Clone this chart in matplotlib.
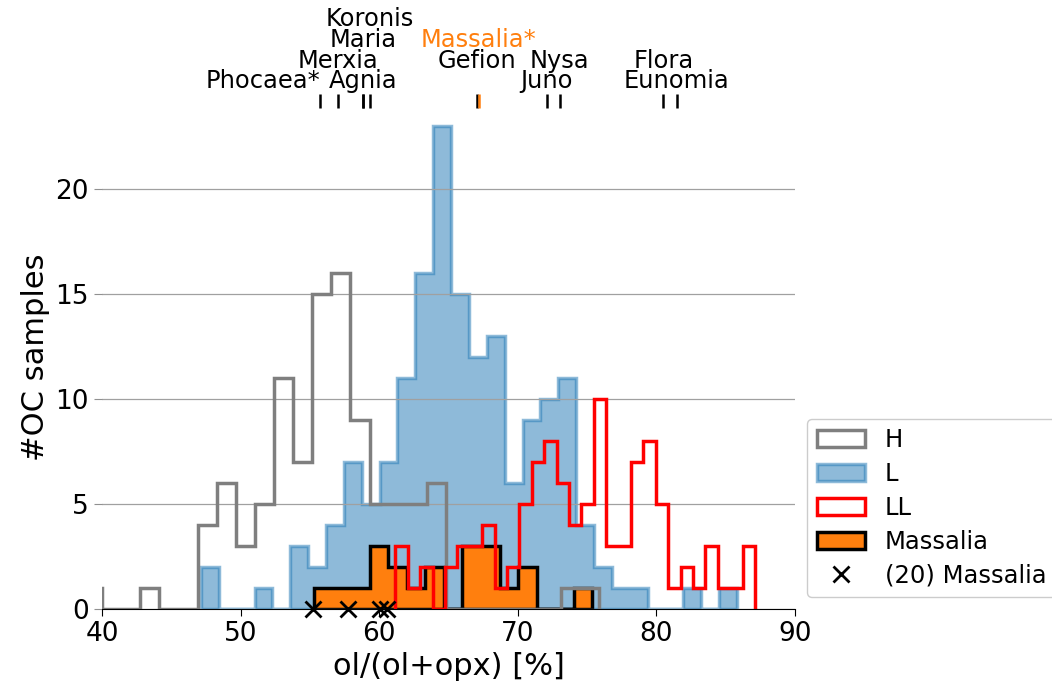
import numpy as np
import matplotlib
matplotlib.use('Agg')
from matplotlib import pyplot as plt

# histogram bins: first edge, bin width and counts per bin
h_start, h_width = 38.62, 1.379
h_counts = [1, 0, 0, 1, 0, 0, 4, 6, 3, 5, 11, 7, 15, 16, 9, 5, 5, 5, 6, 0, 0, 0, 0, 0, 0, 1, 1]

l_start, l_width = 47.14, 1.289
l_counts = [2, 0, 0, 1, 0, 3, 2, 4, 7, 5, 7, 11, 16, 23, 15, 12, 13, 6, 9, 10, 11, 4, 2, 1, 1, 0, 0, 1, 0, 1]

ll_start, ll_width = 61.17, 0.8946
ll_counts = [3, 1, 2, 0, 2, 3, 3, 4, 1, 2, 5, 7, 8, 6, 4, 5, 10, 3, 3, 7, 8, 5, 1, 2, 1, 3, 1, 1, 3]

mas_start, mas_width = 55.33, 1.335
mas_counts = [1, 1, 1, 3, 2, 1, 2, 0, 3, 3, 1, 2, 0, 0, 1]

# (20) Massalia measurements
massalia_20 = [55.24, 57.77, 60.06, 60.58]

# asteroid families on top
families = ['Phocaea*', 'Merxia', 'Agnia', 'Maria', 'Koronis', 'Gefion',
            'Massalia*', 'Juno', 'Nysa', 'Flora', 'Eunomia']
family_ol = [55.73, 57.05, 58.85, 58.85, 59.34, 67.03, 67.2, 72.09, 73.04, 80.5, 81.46]
family_row = [0, 1, 0, 2, 3, 1, 2, 0, 1, 1, 0]


def bins_of(start, width, counts):
    edges = start + width * np.arange(len(counts) + 1)
    centers = 0.5 * (edges[:-1] + edges[1:])
    return edges, centers


fig = plt.figure(figsize=(10.52, 6.91), dpi=100)
ax = fig.add_axes([102 / 1052, 82 / 691, 693 / 1052, 504 / 691])

lw = 2.5
edges, centers = bins_of(h_start, h_width, h_counts)
ax.hist(centers, bins=edges, weights=h_counts, histtype='step', color='C7', lw=lw, label='H')
edges, centers = bins_of(l_start, l_width, l_counts)
ax.hist(centers, bins=edges, weights=l_counts, histtype='stepfilled', fc='C0', ec='C0',
        alpha=0.5, lw=lw, label='L')
edges, centers = bins_of(ll_start, ll_width, ll_counts)
ax.hist(centers, bins=edges, weights=ll_counts, histtype='step', color='red', lw=lw, label='LL')
edges, centers = bins_of(mas_start, mas_width, mas_counts)
ax.hist(centers, bins=edges, weights=mas_counts, histtype='stepfilled', fc='C1', ec='black', lw=lw, label='Massalia')

ax.plot(massalia_20, np.zeros(len(massalia_20)), 'x', color='black', ms=12, mew=2,
        clip_on=False, zorder=5, label='(20) Massalia')

ax.set_xlim(40, 90)
ax.set_ylim(0, 24)
ax.set_yticks([0, 5, 10, 15, 20])
ax.grid(axis='y', color='#a0a0a0', lw=0.9)
for s in ['left', 'top', 'right']:
    ax.spines[s].set_visible(False)
ax.tick_params(axis='both', labelsize=19)
ax.tick_params(axis='y', color='#909090', length=6)
ax.tick_params(axis='x', length=5)
ax.set_xlabel('ol/(ol+opx) [%]', fontsize=22)
ax.set_ylabel('#OC samples', fontsize=22)

# family markers above the axes
trans = ax.get_xaxis_transform()
row_y = [1.0337, 1.0744, 1.1151, 1.1558]
for name, val, row in zip(families, family_ol, family_row):
    col = 'C1' if name.startswith('Massalia') else 'black'
    ax.vlines(val, 0.994, 1.0218, transform=trans, color=col, lw=1.8, clip_on=False)
    ha = 'right' if name.startswith('Phocaea') else 'center'
    ax.text(val, row_y[row], name, transform=trans, ha=ha, va='baseline',
            fontsize=17.4, color=col)

ax.legend(loc='lower left', bbox_to_anchor=(807 / 1052, 94 / 691),
          bbox_transform=fig.transFigure, borderaxespad=0, fontsize=17.5,
          labelspacing=0.4, framealpha=1)

fig.savefig('out.png', dpi=100)
